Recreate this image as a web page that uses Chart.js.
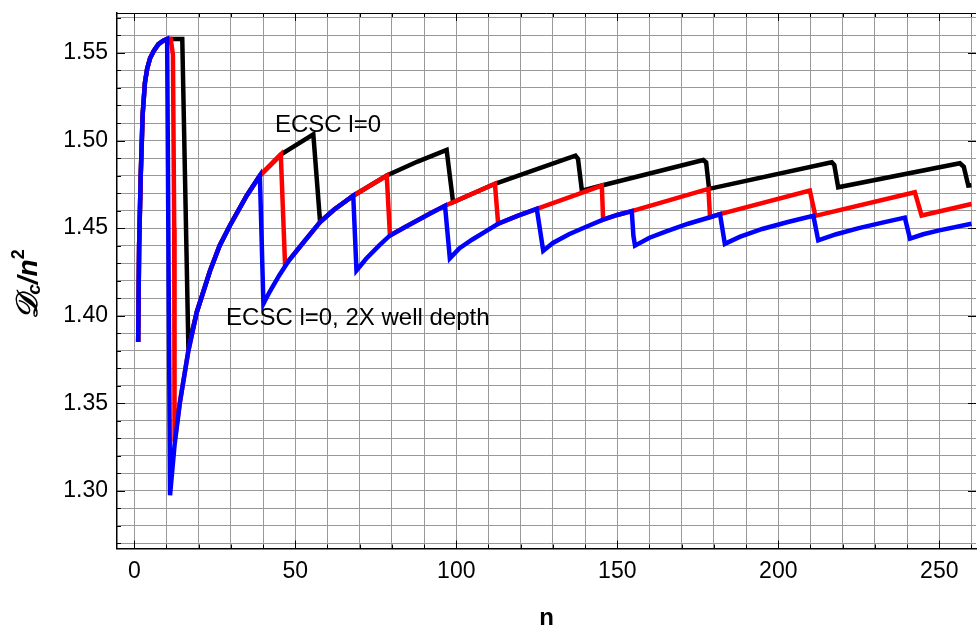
<!DOCTYPE html>
<html>
<head>
<meta charset="utf-8">
<script src="https://cdn.jsdelivr.net/npm/chart.js@4/dist/chart.umd.min.js"></script>
<style>
  html, body { margin: 0; padding: 0; background: #fff; }
  #wrap { width: 977px; height: 630px; position: relative; }
</style>
</head>
<body>
<div id="wrap"><canvas id="c"></canvas></div>
<script>
// ---- data ----
const xTickLabels = ['0', '50', '100', '150', '200', '250'];
const yTickLabels = ['1.30', '1.35', '1.40', '1.45', '1.50', '1.55'];

// blue: ECSC l=0, 2X well depth
const blueN = [1.2, 1.5, 2.0, 2.6, 3.3, 4.0, 4.9, 6, 7.5, 9, 10.2, 11.1, 12.5, 14.2, 16.8, 19.4, 23.5, 26.5, 29.7, 34.9, 39,
  40.1, 42, 45, 48, 51.5, 57.7, 62, 68,
  69, 72, 76, 79.4, 84, 88, 92, 96.5,
  98, 101, 105, 109, 113, 119, 125,
  127, 130, 135, 140, 145.6, 150, 154.5,
  155, 155.5, 160, 165, 172, 178.8, 181.9,
  183.4, 188, 195, 203, 210.9,
  212.4, 218, 225, 232, 239.3,
  240.9, 245, 250, 260];
const blueV = [1.385, 1.44, 1.48, 1.515, 1.533, 1.541, 1.547, 1.551, 1.555, 1.557, 1.558, 1.2975, 1.326, 1.351, 1.380, 1.402, 1.4255, 1.440, 1.4515, 1.4685, 1.480,
  1.4068, 1.4135, 1.423, 1.4315, 1.4395, 1.4535, 1.4605, 1.4685,
  1.4258, 1.4325, 1.440, 1.4458, 1.4505, 1.4545, 1.4585, 1.4628,
  1.4327, 1.4385, 1.4435, 1.448, 1.4525, 1.457, 1.461,
  1.437, 1.4415, 1.4465, 1.4505, 1.4548, 1.4575, 1.4597,
  1.4457, 1.440, 1.4445, 1.448, 1.4525, 1.4562, 1.458,
  1.441, 1.445, 1.4495, 1.4535, 1.457,
  1.443, 1.4465, 1.450, 1.453, 1.456,
  1.444, 1.4465, 1.4487, 1.4525];

// red: intermediate curve
const redN = [1.2, 1.5, 2.0, 2.6, 3.3, 4.0, 4.9, 6, 7.5, 9, 10.2, 11.3, 12.0, 12.4, 12.5, 14.2, 16.8, 19.4, 23.5, 26.5, 29.7, 34.9, 39,
  45.5, 46.8, 48, 51.5, 57.7, 62, 68, 78.4, 79.4, 84, 88, 92, 96.5, 112, 113, 119, 125, 145.2, 145.6, 150, 154.5,
  178.3, 178.8, 181.9, 209.8, 211.5, 242.4, 244.5, 260];
const redV = [1.385, 1.44, 1.48, 1.515, 1.533, 1.541, 1.547, 1.551, 1.555, 1.557, 1.558, 1.558, 1.549, 1.45, 1.328, 1.351, 1.380, 1.402, 1.4255, 1.440, 1.4515, 1.4685, 1.480,
  1.492, 1.430, 1.4315, 1.4395, 1.4535, 1.4605, 1.4685, 1.480, 1.4458, 1.4505, 1.4545, 1.4585, 1.4628, 1.4753, 1.4525, 1.457, 1.461, 1.4743, 1.4548, 1.4575, 1.4597,
  1.4724, 1.4562, 1.458, 1.4714, 1.457, 1.4705, 1.4572, 1.4638];

// black: ECSC l=0
const blackN = [1.2, 1.5, 2.0, 2.6, 3.3, 4.0, 4.9, 6, 7.5, 9, 10.2, 14.9, 16.8, 19.4, 23.5, 26.5, 29.7, 34.9, 39,
  45.5, 55.6, 57.7, 62, 68, 78.4, 88, 97, 99, 112, 137, 137.8, 139, 145.2,
  176.7, 177.6, 178.5, 216.6, 217.4, 218.6, 256.4, 257.6, 259, 260];
const blackV = [1.385, 1.44, 1.48, 1.515, 1.533, 1.541, 1.547, 1.551, 1.555, 1.557, 1.558, 1.558, 1.382, 1.402, 1.4255, 1.440, 1.4515, 1.4685, 1.480,
  1.492, 1.5035, 1.4535, 1.4605, 1.4685, 1.480, 1.488, 1.4946, 1.4648, 1.4753, 1.4914, 1.4895, 1.4714, 1.4743,
  1.4889, 1.4875, 1.4724, 1.4876, 1.486, 1.4733, 1.487, 1.485, 1.4743, 1.4745];

const seriesNames = ['ECSC l=0', 'intermediate', 'ECSC l=0, 2X well depth'];

function pts(ns, vs) { return ns.map((n, i) => ({ x: n, y: vs[i] })); }

const FONT = "'Liberation Sans', Arial, sans-serif";

const decor = {
  id: 'decor',
  afterDatasetsDraw(chart) {
    const { ctx, chartArea: a, scales: { x, y } } = chart;
    ctx.save();
    ctx.strokeStyle = '#000';
    ctx.lineWidth = 1;
    ctx.beginPath();
    ctx.moveTo(a.left, a.top + 0.5); ctx.lineTo(a.right, a.top + 0.5);
    ctx.stroke();
    ctx.beginPath();
    for (let n = 0; n <= 260; n += 10) {
      const px = Math.round(x.getPixelForValue(n)) + 0.5;
      const len = n % 50 === 0 ? 8 : 4;
      ctx.moveTo(px, a.bottom); ctx.lineTo(px, a.bottom - len);
      ctx.moveTo(px, a.top); ctx.lineTo(px, a.top + len);
    }
    for (let k = 127; k <= 157; k++) {
      const py = Math.round(y.getPixelForValue(k / 100)) + 0.5;
      const len = k % 5 === 0 ? 8 : 4;
      ctx.moveTo(a.left, py); ctx.lineTo(a.left + len, py);
      if (k % 5 === 0) { ctx.moveTo(a.right, py); ctx.lineTo(a.right - len, py); }
    }
    ctx.stroke();
    ctx.fillStyle = '#000';
    ctx.font = '24px ' + FONT;
    ctx.textAlign = 'left';
    ctx.textBaseline = 'alphabetic';
    ctx.fillText(seriesNames[0], x.getPixelForValue(43.7), y.getPixelForValue(1.5047));
    ctx.fillText(seriesNames[2], x.getPixelForValue(28.5), y.getPixelForValue(1.3945));
    ctx.restore();
  },
  afterDraw(chart) {
    const { ctx } = chart;
    ctx.save();
    ctx.fillStyle = '#000';
    ctx.translate(37, 284);
    ctx.rotate(-Math.PI / 2);
    ctx.textBaseline = 'alphabetic';
    ctx.textAlign = 'left';
    const parts = [
      { t: '\u{1D49F}', f: 'italic bold 30px ' + FONT + ", 'DejaVu Sans', 'DejaVu Serif'", dy: 0 },
      { t: 'c', f: 'italic bold 19px ' + FONT, dy: 3 },
      { t: '/', f: 'italic bold 28px ' + FONT, dy: 0 },
      { t: 'n', f: 'italic bold 28px ' + FONT, dy: 0 },
      { t: '2', f: 'bold 18px ' + FONT, dy: -13 }
    ];
    let total = 0;
    parts.forEach(p => { ctx.font = p.f; p.w = ctx.measureText(p.t).width; total += p.w; });
    let tx = -total / 2;
    parts.forEach(p => { ctx.font = p.f; ctx.fillText(p.t, tx, p.dy); tx += p.w; });
    ctx.restore();
  }
};

new Chart(document.getElementById('c'), {
  type: 'line',
  data: {
    datasets: [
      { label: seriesNames[0], data: pts(blackN, blackV), borderColor: '#000000', order: 3 },
      { label: seriesNames[1], data: pts(redN, redV), borderColor: '#ff0000', order: 2 },
      { label: seriesNames[2], data: pts(blueN, blueV), borderColor: '#0000ff', order: 1 }
    ]
  },
  options: {
    responsive: true,
    maintainAspectRatio: false,
    animation: false,
    devicePixelRatio: 1,
    layout: { padding: { top: 13, right: 1, left: 0, bottom: 0 } },
    elements: {
      line: { borderWidth: 4.5, tension: 0, fill: false, borderJoinStyle: 'miter', borderCapStyle: 'butt' },
      point: { radius: 0, hoverRadius: 0 }
    },
    plugins: { legend: { display: false }, tooltip: { enabled: false } },
    scales: {
      x: {
        type: 'linear',
        min: -5.37, max: 261.4,
        afterFit(s) { s.height = 81.5; s.paddingLeft = 0; s.paddingRight = 0; },
        border: { color: '#000', width: 1.5 },
        grid: { color: '#999', lineWidth: 1, drawTicks: false },
        ticks: {
          stepSize: 10, includeBounds: false, autoSkip: false, maxRotation: 0,
          padding: 9, color: '#000', font: { family: FONT, size: 23 },
          callback: (v) => (v % 50 === 0 ? xTickLabels[v / 50] : '')
        },
        title: { display: true, text: 'n', color: '#000', padding: { top: 0, bottom: 0 },
                 font: { family: FONT, size: 24, weight: 'bold', lineHeight: 1 } }
      },
      y: {
        type: 'linear',
        min: 1.2671, max: 1.5728,
        afterFit(s) { s.width = 117; s.paddingTop = 0; s.paddingBottom = 0; },
        border: { color: '#000', width: 1.5 },
        grid: { color: '#999', lineWidth: 1, drawTicks: false },
        ticks: {
          stepSize: 0.01, includeBounds: false, autoSkip: false,
          padding: 9, color: '#000', font: { family: FONT, size: 23 },
          callback: (v) => {
            const k = Math.round(v * 100);
            return k % 5 === 0 ? yTickLabels[(k - 130) / 5] || '' : '';
          }
        }
      }
    }
  },
  plugins: [decor]
});
</script>
</body>
</html>
